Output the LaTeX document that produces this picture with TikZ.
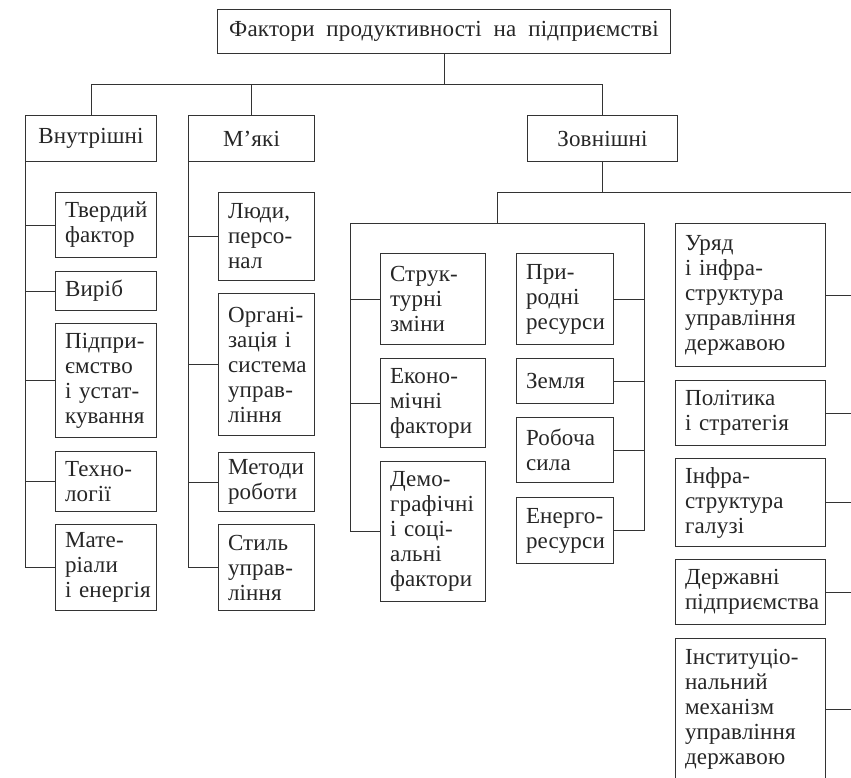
\documentclass[tikz,border=0pt]{standalone}
\usepackage{fontspec}
\setmainfont[LetterSpace=0.8]{Liberation Serif}
\definecolor{linec}{HTML}{333333}
\definecolor{textc}{HTML}{262626}
\newcommand\fs{\fontsize{23}{25}\selectfont\exhyphenpenalty=10000 \hyphenpenalty=10000 }
\newcommand\bx[6]{%
  \pgfmathsetmacro\bw{#4-#2}\pgfmathsetmacro\bh{#5-#3}\pgfmathsetmacro\tw{#4-#2-19}%
  \node[box, anchor=north west, minimum width=\bw pt, minimum height=\bh pt, text width=\tw pt] (#1) at (#2,#3) {#6};}
\newcommand\cbx[6]{%
  \pgfmathsetmacro\bw{#4-#2}\pgfmathsetmacro\bh{#5-#3}%
  \node[box, align=center, anchor=north west, minimum width=\bw pt, minimum height=\bh pt] (#1) at (#2,#3) {#6};}
\begin{document}
\begin{tikzpicture}[x=1pt,y=-1pt,
  box/.style={draw=linec, line width=1pt, inner xsep=9.5pt, inner ysep=0pt, align=left, font=\fs, text=textc},
  ln/.style={draw=linec, line width=1pt}]
\useasboundingbox[fill=white] (0,0) rectangle (851,777);
% top level
\cbx{top}{217}{9}{670}{53}{Фактори\ \ продуктивності\ \ на\ \ підприємстві}
\cbx{vn}{25}{115}{156}{161}{Внутрішні}
\cbx{mk}{188}{115}{314}{161}{М’які}
\cbx{zv}{527}{115}{677}{161}{Зовнішні}
% internal
\bx{tf}{55}{192}{156}{257}{Твердий\\фактор}
\bx{vy}{55}{271}{156}{310}{Виріб}
\bx{pu}{55}{323}{156}{437}{Підпри-\\ємство\\і~устат-\\кування}
\bx{th}{55}{451}{156}{511}{Техно-\\логії}
\bx{me}{55}{524}{156}{610}{Мате-\\ріали\\і~енергія}
% soft
\bx{lp}{218}{192}{314}{280}{Люди,\\персо-\\нал}
\bx{os}{218}{293}{314}{435}{Органі-\\зація~і\\система\\управ-\\ління}
\bx{mr}{218}{452}{314}{511}{Методи\\роботи}
\bx{su}{218}{524}{314}{610}{Стиль\\управ-\\ління}
% external, bracket group
\bx{sz}{380}{253}{485}{344}{Струк-\\турні\\зміни}
\bx{ek}{380}{358}{485}{447}{Еконо-\\мічні\\фактори}
\bx{dm}{380}{461}{485}{601}{Демо-\\графічні\\і~соці-\\альні\\фактори}
\bx{pr}{516}{253}{613}{344}{При-\\родні\\ресурси}
\bx{zm}{516}{358}{613}{403}{Земля}
\bx{rs}{516}{417}{613}{482}{Робоча\\сила}
\bx{er}{516}{497}{613}{563}{Енерго-\\ресурси}
% external, right group
\bx{ur}{675}{223}{825}{366}{Уряд\\і~інфра-\\структура\\управління\\державою}
\bx{ps}{675}{380}{825}{445}{Політика\\і~стратегія}
\bx{ig}{675}{458}{825}{546}{Інфра-\\структура\\галузі}
\bx{dp}{675}{559}{825}{624}{Державні\\підприємства}
\bx{in}{675}{638}{825}{779}{Інституціо-\\нальний\\механізм\\управління\\державою}
% coordinates
\coordinate (bus1) at (0,84);
\coordinate (bus2) at (0,192);
\coordinate (redge) at (851,192);
\coordinate (bL) at (350,223);
\coordinate (bR) at (644,223);
\coordinate (bM) at (497,223);
% connectors
\draw[ln] (top.south) -- (top.south |- bus1);
\draw[ln] (vn.north) |- (zv.north |- bus1) -- (zv.north);
\draw[ln] (mk.north) -- (mk.north |- bus1);
\draw[ln] (vn.south west) |- (me.west);
\foreach \n in {tf,vy,pu,th} \draw[ln] (\n.west -| vn.south west) -- (\n.west);
\draw[ln] (mk.south west) |- (su.west);
\foreach \n in {lp,os,mr} \draw[ln] (\n.west -| mk.south west) -- (\n.west);
\draw[ln] (zv.south) -- (zv.south |- bus2);
\draw[ln] (bM) |- (redge);
\draw[ln] (dm.west) -| (bL) -- (bR) |- (er.east);
\foreach \n in {sz,ek} \draw[ln] (\n.west -| bL) -- (\n.west);
\foreach \n in {pr,zm,rs} \draw[ln] (\n.east) -- (\n.east -| bR);
\foreach \n in {ur,ps,ig,dp,in} \draw[ln] (\n.east) -- (\n.east -| redge);
\end{tikzpicture}
\end{document}
